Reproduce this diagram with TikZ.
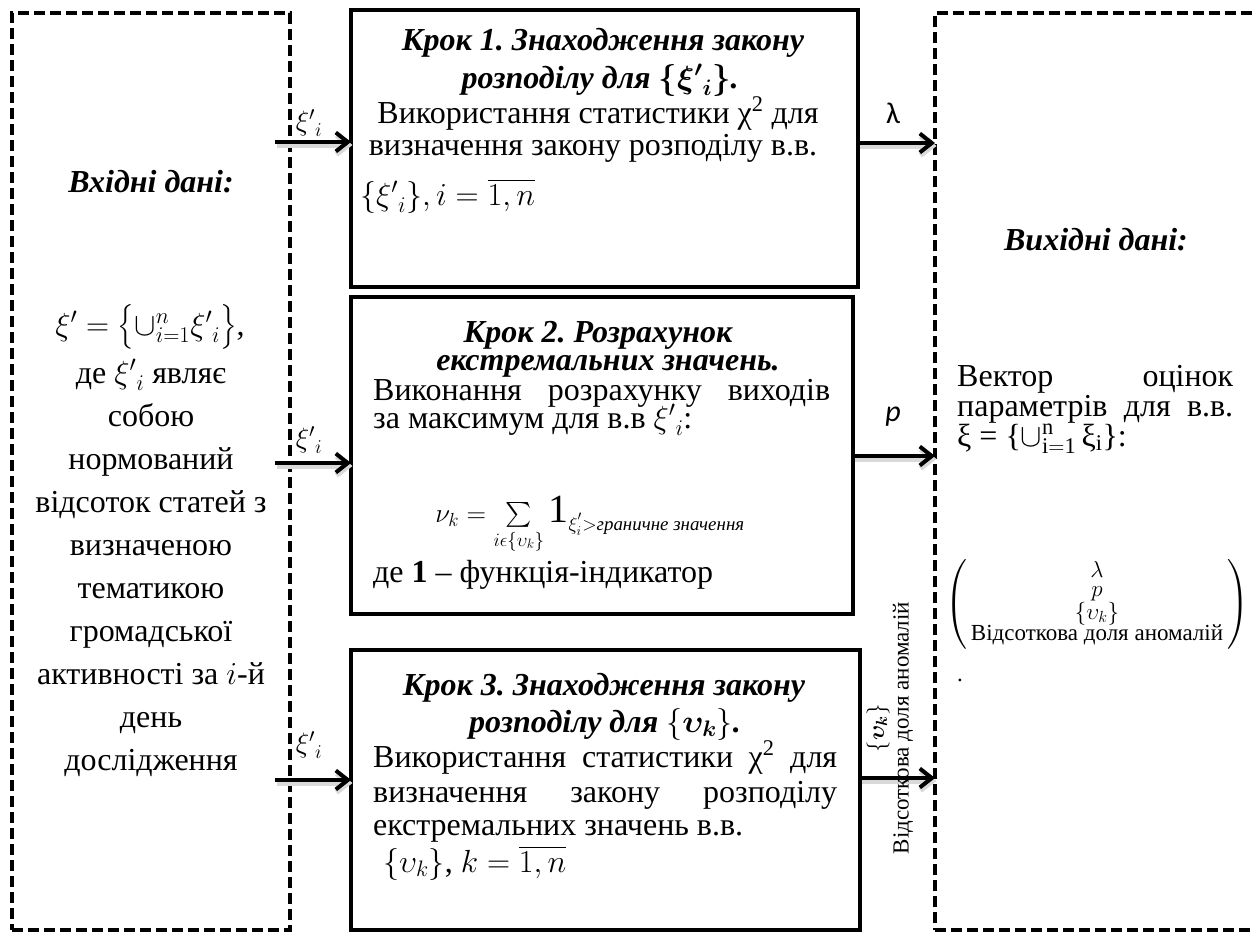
\RequirePackage{fix-cm}
\documentclass[tikz,border=0pt]{standalone}
\usepackage{amsmath}
\usepackage{fontspec}
\setmainfont{Liberation Serif}
\newfontfamily\labelfont{Carlito}
\usetikzlibrary{arrows.meta}

\begin{document}
\frenchspacing
\begin{tikzpicture}[
  x=1pt, y=-1pt,
  stepframe/.style={draw, line width=4pt, inner sep=0pt, outer sep=0pt, anchor=north west},
  dataframe/.style={draw, line width=3.5pt, dash pattern=on 11pt off 5pt, inner sep=0pt, outer sep=0pt, anchor=north west},
  ln/.style={inner sep=0pt, anchor=base, font=\fontsize{32}{36}\selectfont},
  lnw/.style={ln, anchor=base west},
  ttl/.style={ln, font=\fontsize{32}{36}\selectfont\bfseries\itshape},
  flow/.style={line width=4pt, -{Straight Barb[length=12pt,width=19pt]}},
  flowshadow/.style={flow, draw=black!15, line width=5pt, transform canvas={shift={(1.5pt,-3pt)}}},
  lbl/.style={inner sep=0pt, font=\fontsize{28}{32}\selectfont},
  sanslbl/.style={inner sep=0pt, font=\labelfont\fontsize{30}{34}\selectfont},
  note/.style={inner sep=0pt, font=\fontsize{23}{26}\selectfont},
]
\clip (0,0) rectangle (1253,935);
\useasboundingbox (0,0) rectangle (1253,935);

% input and output frames
\node[dataframe, minimum width=278pt, minimum height=917pt] (input) at (12,13) {};
\node[dataframe, minimum width=340pt, minimum height=917pt] (output) at (935,13) {};

% processing steps
\node[stepframe, minimum width=507pt, minimum height=277pt] (step1) at (351,10) {};
\node[stepframe, minimum width=502pt, minimum height=317pt] (step2) at (351,297) {};
\node[stepframe, minimum width=509pt, minimum height=280pt] (step3) at (351,650) {};

% input description
\node[ttl] (inhead) at (151,192) {Вхідні дані:};
\node[ln] (inset) at (150,335) {$\xi' = \bigl\{\cup_{i=1}^{n}{\xi'}_i\bigr\}$,};
\foreach \t [count=\k] in {де ${\xi'}_i$ являє, собою, нормований, відсоток статей з,
    визначеною, тематикою, громадської, активності за $i$-й, день, дослідження}
  \node[ln] (desc\k) at (151,{383+43.1*(\k-1)}) {\t};

% step 1
\node[ttl] (s1a) at (603,50) {Крок 1. Знаходження закону};
\node[ttl] (s1b) at (600,88) {розподілу для {\boldmath$\{{\xi'}_i\}$}.};
\node[ln] (s1c) at (598,123) {Використання статистики χ\textsuperscript{2} для};
\node[ln] (s1d) at (593,155) {визначення закону розподілу в.в.};
\node[lnw] (s1e) at (360,205) {$\{{\xi'}_i\}, i = \overline{1,n}$};

% step 2
\node[ttl] (s2a) at (598,342) {Крок 2. Розрахунок};
\node[ttl] (s2b) at (608,370) {екстремальних значень.};
\node[lnw] (s2c) at (373,400) {\makebox[457pt][s]{Виконання розрахунку виходів}};
\node[lnw] (s2d) at (373,428) {за максимум для в.в ${\xi'}_i$:};
\node[ln, font=\fontsize{27}{31}\selectfont] (s2e) at (590,522) {$\nu_k = \sum\limits_{i\epsilon\{\upsilon_k\}} \text{\fontsize{40}{40}\selectfont 1}_{\xi_i^{'} > \text{\itshape граничне значення}}$};
\node[lnw] (s2f) at (373,582) {де \textbf{1} – функція-індикатор};

% step 3
\node[ttl] (s3a) at (604,695) {Крок 3. Знаходження закону};
\node[ttl] (s3b) at (605,732) {розподілу для $\{\boldsymbol{\upsilon_k}\}$.};
\node[lnw] (s3c) at (373,767) {\makebox[464pt][s]{Використання статистики χ\textsuperscript{2} для}};
\node[lnw] (s3d) at (373,802) {\makebox[464pt][s]{визначення закону розподілу}};
\node[lnw] (s3e) at (373,835) {екстремальних значень в.в.};
\node[lnw] (s3f) at (383,872) {$\{\upsilon_k\}$, $k = \overline{1,n}$};

% output description
\node[ttl] (outhead) at (1096,250) {Вихідні дані:};
\node[lnw] (o1) at (957,386) {\makebox[276pt][s]{Вектор оцінок}};
\node[lnw] (o2) at (957,416) {\makebox[276pt][s]{параметрів для в.в.}};
\node[lnw] (o3) at (957,446) {ξ = \{$\cup_{\mathrm{i=1}}^{\mathrm{n}}$\,ξ\textsubscript{i}\}:};
\node[note] (vec) at (1097,604) {\renewcommand\arraystretch{0.72}$\left(\begin{array}{@{\hspace{4pt}}c@{\hspace{4pt}}}\lambda\\ p\\ \{\upsilon_k\}\\ \text{Відсоткова доля аномалій}\end{array}\right)$};
\node[note] (dot) at (960,680) {.};

% connectors into the steps (soft shadow first, then the arrow)
\coordinate (in1) at (275,142);
\coordinate (in2) at (275,463);
\coordinate (in3) at (275,780);
\foreach \c/\s in {in1/step1, in2/step2, in3/step3} {
  \draw[flowshadow] (\c) -- (\c -| \s.west);
  \draw[flow] (\c) -- (\c -| \s.west);
}
\node[lbl] (xi1) at (309,123) {${\xi'}_i$};
\node[lbl] (xi2) at (309,440) {${\xi'}_i$};
\node[lbl] (xi3) at (309,745) {${\xi'}_i$};

% connectors out of the steps
\coordinate (out1) at (900,143);
\coordinate (out2) at (900,456);
\coordinate (out3) at (900,778);
\foreach \c/\s in {out1/step1, out2/step2, out3/step3} {
  \draw[flowshadow] (\s.east |- \c) -- (output.west |- \c);
  \draw[flow] (\s.east |- \c) -- (output.west |- \c);
}
\node[sanslbl] (lam) at (893,113) {λ};
\node[sanslbl] (par) at (893,417) {\itshape p};
\node[note, rotate=90] (outk) at (878,728) {$\{\boldsymbol{\upsilon_k}\}$};
\node[note, rotate=90] (outshare) at (903,728) {Відсоткова доля аномалій};
\end{tikzpicture}
\end{document}
